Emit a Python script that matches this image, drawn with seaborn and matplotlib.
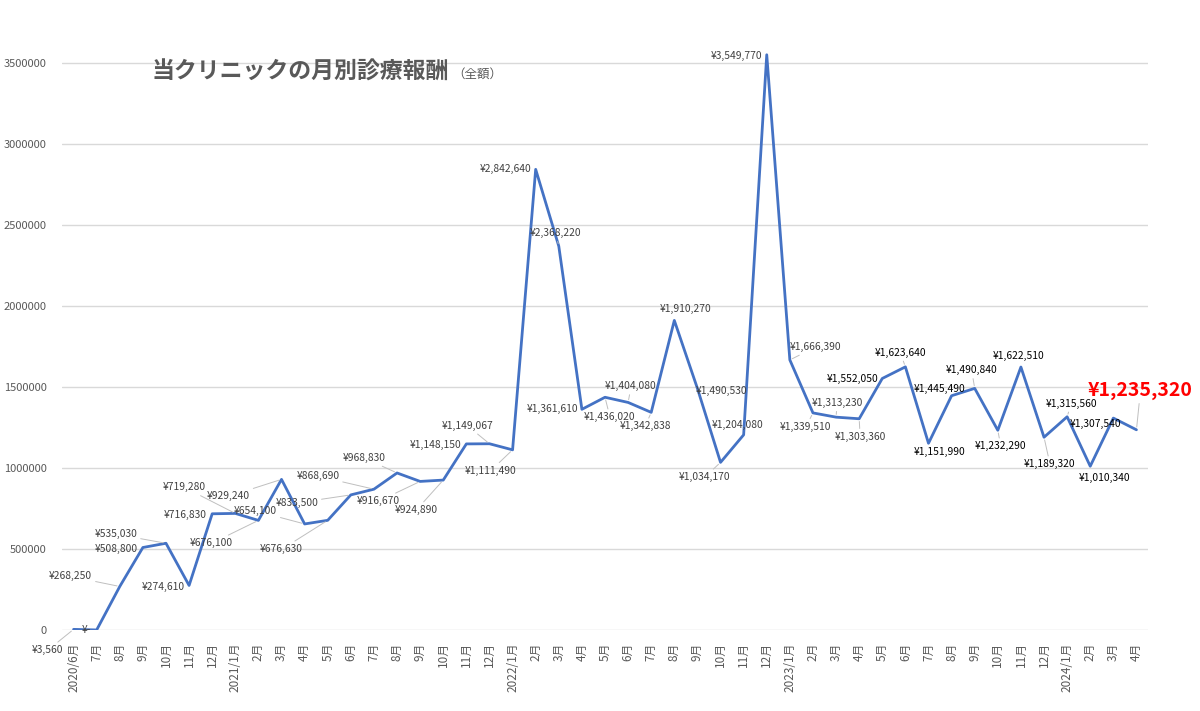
import matplotlib
matplotlib.use('Agg')
import matplotlib.pyplot as plt
import numpy as np
import pandas as pd
import seaborn as sns

# 月ラベル (2020/6 ～ 2024/4)
months = ['2020/6月', '7月', '8月', '9月', '10月', '11月', '12月',
          '2021/1月', '2月', '3月', '4月', '5月', '6月', '7月', '8月', '9月', '10月', '11月', '12月',
          '2022/1月', '2月', '3月', '4月', '5月', '6月', '7月', '8月', '9月', '10月', '11月', '12月',
          '2023/1月', '2月', '3月', '4月', '5月', '6月', '7月', '8月', '9月', '10月', '11月', '12月',
          '2024/1月', '2月', '3月', '4月']

# 月別診療報酬 (円)
values = [3560, 0, 268250, 508800, 535030, 274610, 716830,
          719280, 676100, 929240, 654100, 676630, 833500, 868690, 968830, 916670, 924890, 1148150, 1149067,
          1111490, 2842640, 2368220, 1361610, 1436020, 1404080, 1342838, 1910270, 1490530, 1034170, 1204080, 3549770,
          1666390, 1339510, 1313230, 1303360, 1552050, 1623640, 1151990, 1445490, 1490840, 1232290, 1622510, 1189320,
          1315560, 1010340, 1307540, 1235320]

# ラベル位置のずらし (pixel, x右 / y上)
offsets = [(-26, -21), (-10, 0), (-49, 10), (-27, -1), (-50, 9), (-26, -2), (-27, -1),
           (-51, 26), (-47, -23), (-53, -17), (-49, 13), (-46, -29), (-54, -8), (-56, 13), (-33, 15),
           (-42, -20), (-27, -30), (-31, -1), (-22, 18), (-22, -21), (-30, 0), (-3, 13), (-29, 0),
           (5, -20), (3, 16), (-6, -14), (11, 11), (24, -3), (-16, -15), (-6, 10), (-30, -1),
           (26, 13), (-7, -14), (1, 14), (1, -18), (-30, -1), (-5, 14), (11, -9), (-12, 7),
           (-3, 18), (3, -16), (-2, 11), (6, -27), (4, 13), (14, -12), (-18, -6), (4, 39)]

df = pd.DataFrame({'pos': np.arange(len(values)), 'value': values})

sns.set_theme(style='white')
plt.rcParams['font.family'] = ['Noto Sans CJK JP', 'DejaVu Sans']

fig = plt.figure(figsize=(12, 7.11), dpi=100)
ax = fig.add_axes([62 / 1200, 0.114, 1086 / 1200, 0.866])

sns.lineplot(data=df, x='pos', y='value', color='#4472C4', linewidth=2, ax=ax)

# データラベル
for i, (v, (dx, dy)) in enumerate(zip(values, offsets)):
    txt = '¥{:,}'.format(v) if v else '¥-'
    if i == len(values) - 1:
        ax.annotate(txt, (i, v), xytext=(dx, dy), textcoords='offset pixels',
                    ha='center', va='center', fontsize=14, fontweight='bold', color='#ff0000',
                    annotation_clip=False,
                    arrowprops=dict(arrowstyle='-', color='#bfbfbf', lw=0.7, shrinkA=0, shrinkB=2))
        continue
    col = '#000000' if i >= 35 else '#404040'
    arrow = None
    if abs(dx) > 35 or abs(dy) > 12:
        arrow = dict(arrowstyle='-', color='#bfbfbf', lw=0.7, shrinkA=0, shrinkB=2)
    ax.annotate(txt, (i, v), xytext=(dx, dy), textcoords='offset pixels',
                ha='center', va='center', fontsize=7.4, color=col,
                annotation_clip=False, arrowprops=arrow)

ax.set_xlim(-0.5, len(values) - 0.5)
ax.set_ylim(0, 3800000)
yt = np.arange(0, 3500001, 500000)
ax.set_yticks(yt)
ax.set_yticklabels([str(t) for t in yt])
ax.set_xticks(range(len(months)))
ax.set_xticklabels(months, rotation=90)
ax.tick_params(axis='y', length=0, pad=11, labelsize=8, labelcolor='#595959')
ax.tick_params(axis='x', length=0, pad=9, labelsize=8.5, labelcolor='#595959')
ax.grid(axis='y', color='#d9d9d9', linewidth=1)
ax.grid(axis='x', visible=False)
ax.set_xlabel('')
ax.set_ylabel('')
for s in ax.spines.values():
    s.set_visible(False)

# タイトル
fig.text(152 / 1200, 1 - 72 / 711, '当クリニックの月別診療報酬', fontsize=16.5,
         fontweight='bold', color='#595959', va='center', ha='left')
fig.text(452 / 1200, 1 - 74 / 711, '（全額）', fontsize=9, color='#595959', va='center', ha='left')

fig.savefig('out.png', dpi=100)
